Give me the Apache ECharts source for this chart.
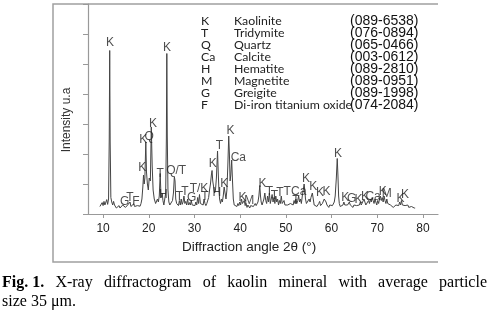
<!DOCTYPE html>
<html>
<head>
<meta charset="utf-8">
<script src="https://cdn.jsdelivr.net/npm/echarts@6/dist/echarts.min.js"></script>
<style>
  html, body { margin: 0; padding: 0; background: #fff; }
  #chart { width: 489px; height: 322px; }
</style>
</head>
<body>
<div id="chart"></div>
<script>
// XRD pattern of kaolin, [2theta, intensity]
const spectrum = [
  [9.3,0.25],[9.6,0.3],[9.8,0.38],[10.0,0.28],[10.2,0.42],[10.4,0.3],[10.6,0.35],[10.8,0.48],[11.0,0.32],[11.2,0.5],
  [11.35,2.5],[11.45,5.45],[11.55,2.4],[11.7,0.55],[11.9,0.4],[12.1,0.3],[12.3,0.42],[12.5,0.3],[12.7,0.25],[12.9,0.2],
  [13.1,0.26],[13.3,0.22],[13.5,0.28],[13.7,0.2],[13.9,0.25],[14.1,0.22],[14.3,0.3],[14.5,0.24],[14.7,0.3],[14.9,0.22],
  [15.1,0.28],[15.3,0.24],[15.5,0.32],[15.7,0.26],[15.9,0.4],[16.1,0.25],[16.3,0.3],[16.5,0.23],[16.7,0.34],[16.9,0.25],
  [17.1,0.3],[17.3,0.22],[17.5,0.28],[17.7,0.24],[17.9,0.3],[18.1,0.26],[18.3,0.35],[18.5,0.5],[18.7,0.9],[18.85,1.3],
  [19.0,1.0],[19.15,1.2],[19.35,2.4],[19.5,1.4],[19.7,1.0],[19.9,0.8],[20.1,1.2],[20.35,1.1],[20.55,2.9],[20.75,1.6],
  [20.95,0.8],[21.2,0.5],[21.5,0.35],[21.7,0.3],[21.9,0.5],[22.1,0.4],[22.3,0.6],[22.5,1.35],[22.65,0.7],[22.8,0.55],
  [22.95,0.7],[23.1,0.45],[23.3,0.3],[23.5,0.35],[23.7,0.7],[23.85,2.5],[23.95,5.35],[24.05,2.6],[24.2,0.8],[24.4,0.4],
  [24.6,0.3],[24.8,0.35],[25.0,0.3],[25.2,0.45],[25.4,0.7],[25.6,1.25],[25.75,1.1],[25.9,0.5],[26.1,0.35],[26.3,0.4],
  [26.5,0.28],[26.7,0.45],[26.9,0.3],[27.1,0.5],[27.3,0.32],[27.5,0.4],[27.7,0.6],[27.9,0.35],[28.1,0.42],[28.3,0.3],
  [28.5,0.5],[28.7,0.3],[28.9,0.38],[29.1,0.3],[29.3,0.45],[29.5,0.3],[29.7,0.25],[29.9,0.35],[30.1,0.28],[30.3,0.4],
  [30.5,0.3],[30.7,0.55],[30.9,0.35],[31.1,0.65],[31.3,0.35],[31.5,0.3],[31.7,0.4],[31.9,0.3],[32.1,0.5],[32.3,0.35],
  [32.5,0.28],[32.7,0.35],[32.9,0.4],[33.1,0.55],[33.3,0.8],[33.5,1.0],[33.7,1.3],[33.85,1.45],[34.0,1.1],[34.2,0.9],
  [34.4,0.7],[34.6,0.8],[34.8,1.2],[35.05,2.1],[35.2,1.4],[35.35,0.8],[35.5,0.5],[35.7,0.35],[35.9,0.5],[36.1,0.4],
  [36.3,0.6],[36.5,0.9],[36.7,0.7],[36.9,0.5],[37.1,0.8],[37.3,1.6],[37.5,2.6],[37.65,2.0],[37.8,1.1],[37.95,1.3],
  [38.15,1.8],[38.3,1.2],[38.5,0.5],[38.7,0.3],[38.9,0.25],[39.1,0.3],[39.3,0.25],[39.5,0.35],[39.7,0.28],[39.9,0.4],
  [40.1,0.3],[40.3,0.5],[40.5,0.35],[40.7,0.3],[40.9,0.45],[41.1,0.28],[41.3,0.35],[41.5,0.22],[41.7,0.3],[41.9,0.25],
  [42.1,0.2],[42.3,0.28],[42.5,0.22],[42.7,0.3],[42.9,0.25],[43.1,0.3],[43.3,0.35],[43.5,0.28],[43.7,0.3],[43.9,0.4],
  [44.1,0.6],[44.3,0.95],[44.45,0.6],[44.6,0.4],[44.8,0.3],[45.0,0.35],[45.2,0.5],[45.4,0.7],[45.6,0.45],[45.8,0.35],
  [46.0,0.6],[46.2,0.4],[46.4,0.7],[46.6,0.35],[46.8,0.5],[47.0,0.65],[47.2,0.4],[47.4,0.55],[47.6,0.35],[47.8,0.6],
  [48.0,0.4],[48.2,0.5],[48.4,0.3],[48.6,0.45],[48.8,0.35],[49.0,0.6],[49.2,0.35],[49.4,0.3],[49.6,0.45],[49.8,0.3],
  [50.0,0.35],[50.2,0.25],[50.4,0.3],[50.6,0.35],[50.8,0.25],[51.0,0.35],[51.2,0.3],[51.4,0.4],[51.6,0.3],[51.8,0.45],
  [52.0,0.35],[52.2,0.5],[52.4,0.35],[52.6,0.45],[52.8,0.6],[53.0,0.4],[53.2,0.5],[53.4,0.35],[53.6,0.6],[53.8,0.8],
  [54.0,1.0],[54.15,0.8],[54.3,0.5],[54.5,0.35],[54.7,0.3],[54.9,0.4],[55.1,0.5],[55.3,0.4],[55.5,0.55],[55.8,0.7],
  [56.0,0.5],[56.2,0.3],[56.4,0.25],[56.6,0.3],[56.8,0.25],[57.0,0.3],[57.2,0.35],[57.4,0.42],[57.6,0.28],[57.8,0.3],
  [58.0,0.35],[58.2,0.4],[58.4,0.5],[58.6,0.55],[58.8,0.4],[59.0,0.3],[59.2,0.25],[59.4,0.22],[59.6,0.3],[59.8,0.25],
  [60.0,0.3],[60.2,0.28],[60.4,0.3],[60.6,0.4],[60.8,0.6],[61.05,1.2],[61.25,1.85],[61.4,1.3],[61.55,0.6],[61.7,0.35],
  [61.9,0.25],[62.1,0.3],[62.3,0.25],[62.5,0.3],[62.7,0.4],[62.9,0.3],[63.1,0.35],[63.3,0.25],[63.5,0.3],[63.7,0.28],
  [63.9,0.4],[64.1,0.3],[64.3,0.25],[64.5,0.3],[64.7,0.22],[64.9,0.3],[65.1,0.25],[65.3,0.35],[65.5,0.28],[65.7,0.3],
  [65.9,0.25],[66.1,0.3],[66.3,0.4],[66.5,0.3],[66.7,0.25],[66.9,0.3],[67.1,0.5],[67.3,0.4],[67.5,0.3],[67.7,0.35],
  [67.9,0.25],[68.1,0.45],[68.3,0.35],[68.5,0.5],[68.7,0.4],[68.9,0.55],[69.1,0.45],[69.3,0.35],[69.5,0.5],[69.7,0.4],
  [69.9,0.3],[70.1,0.45],[70.3,0.35],[70.5,0.5],[70.7,0.6],[70.9,0.45],[71.1,0.55],[71.3,0.4],[71.5,0.6],[71.7,0.45],
  [71.9,0.35],[72.1,0.5],[72.3,0.35],[72.5,0.3],[72.7,0.4],[72.9,0.3],[73.1,0.25],[73.3,0.3],[73.5,0.22],[73.7,0.28],
  [73.9,0.2],[74.1,0.3],[74.3,0.25],[74.5,0.35],[74.7,0.28],[74.9,0.4],[75.1,0.3],[75.3,0.45],[75.5,0.3],[75.7,0.25],
  [75.9,0.35],[76.1,0.28],[76.3,0.3],[76.5,0.25],[76.7,0.3],[76.9,0.22],[77.1,0.25],[77.3,0.2],[77.5,0.25],[77.7,0.2],
  [77.9,0.22],[78.1,0.2],[78.3,0.2]
];

// phase letters written over the peaks: [2theta, intensity, letter]
const peakLabels = [
  [11.5,5.7,'K'],[24.0,5.53,'K'],[18.6,1.53,'K'],[18.8,2.47,'K'],[20.1,2.57,'Q'],[20.9,3.0,'K'],
  [22.5,1.33,'T'],[23.2,0.63,'H'],[26.0,1.43,'Q/T'],[26.7,0.58,'T'],[27.9,0.74,'T'],[29.4,0.54,'G'],
  [31.0,0.86,'T/K'],[32.3,0.58,'T'],[14.7,0.41,'G'],[15.9,0.56,'T'],[17.2,0.41,'F'],
  [34.0,1.67,'K'],[35.45,2.27,'T'],[34.9,0.71,'H'],[36.5,1.02,'K'],[37.9,2.77,'K'],[39.6,1.89,'Ca'],
  [40.5,0.54,'K'],[42.0,0.43,'M'],[44.9,1.02,'K'],
  [46.4,0.74,'T'],[47.5,0.6,'T'],[48.7,0.72,'T'],[50.3,0.74,'T'],[52.8,0.76,'Ca'],[52.2,0.46,'T'],
  [54.4,1.19,'K'],[56.0,0.91,'K'],[57.5,0.71,'K'],[58.9,0.74,'K'],[61.4,2.0,'K'],
  [63.0,0.56,'K'],[64.4,0.52,'G'],[65.9,0.49,'K'],[67.3,0.58,'K'],[69.1,0.58,'Ca'],
  [71.2,0.74,'K'],[72.1,0.69,'M'],[75.1,0.52,'K'],[76.1,0.63,'K']
];

const xTicks = [10, 20, 30, 40, 50, 60, 70, 80];

const phases = [
  ['K', 'Kaolinite', '(089-6538)'],
  ['T', 'Tridymite', '(076-0894)'],
  ['Q', 'Quartz', '(065-0466)'],
  ['Ca', 'Calcite', '(003-0612)'],
  ['H', 'Hematite', '(089-2810)'],
  ['M', 'Magnetite', '(089-0951)'],
  ['G', 'Greigite', '(089-1998)'],
  ['F', 'Di-iron titanium oxide', '(074-2084)']
];

const captionLine1 = ['X-ray', 'diffractogram', 'of', 'kaolin', 'mineral', 'with', 'average', 'particle'];
const captionLine2 = 'size 35 \u03bcm.';

const chart = echarts.init(document.getElementById('chart'), null, { renderer: 'canvas' });

// legend block (top right inside the plot)
const legendTexts = [];
phases.forEach(function (p, i) {
  const y = 22 + i * 12;
  const base = { fontFamily: 'Lato', fontSize: 12.3, fill: '#222' };
  legendTexts.push({ type: 'text', left: 201, top: y - 7, style: Object.assign({ text: p[0] }, base) });
  legendTexts.push({ type: 'text', left: 234, top: y - 7, style: Object.assign({ text: p[1] }, base) });
  legendTexts.push({ type: 'text', left: 350, top: y - 8,
    style: { text: p[2], fontFamily: 'Liberation Sans', fontSize: 14, fill: '#111' } });
});

// justified caption, word positions measured with canvas
const measure = document.createElement('canvas').getContext('2d');
const capFont = '16px "Liberation Serif"';
const capBold = 'bold 16px "Liberation Serif"';
measure.font = capBold;
const figW = measure.measureText('Fig. 1.').width;
measure.font = capFont;
let wordsW = 0;
captionLine1.forEach(function (w) { wordsW += measure.measureText(w).width; });
const capLeft = 2, capRight = 487;
const gap = (capRight - capLeft - figW - wordsW) / captionLine1.length;
const captionTexts = [{ type: 'text', left: capLeft, top: 275,
  style: { text: 'Fig. 1.', font: capBold, fill: '#000' } }];
let cx = capLeft + figW + gap;
captionLine1.forEach(function (w) {
  captionTexts.push({ type: 'text', left: cx, top: 275, style: { text: w, font: capFont, fill: '#000' } });
  measure.font = capFont;
  cx += measure.measureText(w).width + gap;
});
captionTexts.push({ type: 'text', left: capLeft, top: 294, style: { text: captionLine2, font: capFont, fill: '#000' } });

const option = {
  animation: false,
  backgroundColor: '#fff',
  grid: { left: 88, right: 51, top: 4, bottom: 108 },
  xAxis: {
    type: 'value',
    min: 6.7,
    max: 83.3,
    axisLine: { lineStyle: { color: '#999', width: 1.2 } },
    axisTick: { show: true, length: 4, customValues: xTicks, lineStyle: { color: '#999' } },
    axisLabel: { customValues: xTicks, margin: 9, fontFamily: 'Liberation Sans', fontSize: 12, color: '#222' },
    splitLine: { show: false }
  },
  yAxis: {
    type: 'value',
    min: 0,
    max: 7,
    interval: 1,
    axisLine: { show: true, lineStyle: { color: '#999', width: 1.2 } },
    axisTick: { show: true, length: 5, lineStyle: { color: '#999' } },
    axisLabel: { show: false },
    splitLine: { show: false }
  },
  graphic: [
    { type: 'polyline', shape: { points: [[438, 4], [53, 4], [53, 262], [438, 262]] },
      style: { stroke: '#a0a0a0', lineWidth: 1.5, fill: null } },
    { type: 'text', left: 182, top: 240,
      style: { text: 'Diffraction angle 2\u03b8 (\u00b0)', fontFamily: 'Liberation Sans', fontSize: 13.5, fill: '#222' } },
    { type: 'text', x: 67, y: 120, rotation: Math.PI / 2,
      style: { text: 'Intensity u.a', fontFamily: 'Liberation Sans', fontSize: 12, fill: '#333',
        align: 'center', verticalAlign: 'middle' } }
  ].concat(legendTexts, captionTexts),
  series: [
    {
      type: 'line',
      data: spectrum,
      showSymbol: false,
      lineStyle: { color: '#444', width: 1 },
      z: 2
    },
    {
      type: 'scatter',
      data: peakLabels.map(function (p) { return { value: [p[0], p[1]], name: p[2] }; }),
      symbolSize: 0,
      clip: false,
      label: {
        show: true,
        position: 'inside',
        formatter: function (p) { return p.name; },
        fontFamily: 'Liberation Sans',
        fontSize: 12,
        color: '#222'
      },
      z: 3
    }
  ]
};

chart.setOption(option);
</script>
</body>
</html>
